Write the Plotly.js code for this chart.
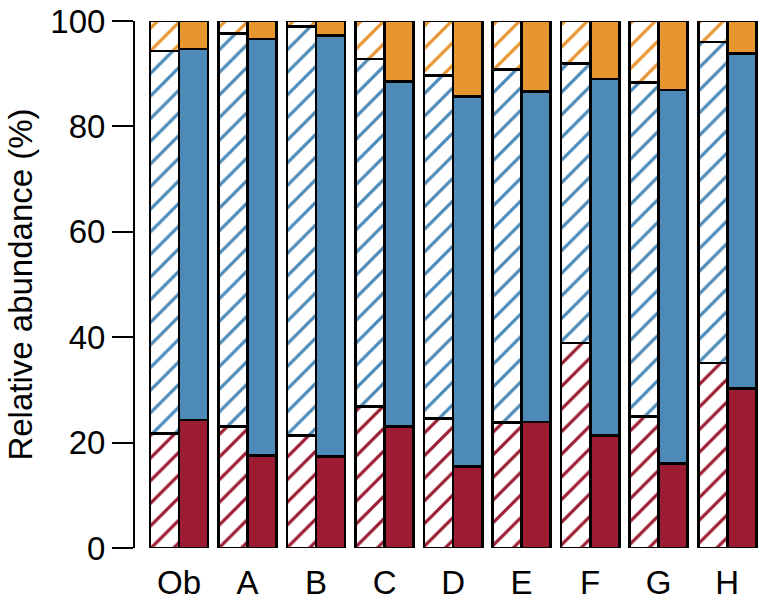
<!DOCTYPE html>
<html>
<head>
<meta charset="utf-8">
<script src="https://cdn.plot.ly/plotly-3.0.1.min.js"></script>
<style>
  html, body { margin: 0; padding: 0; background: #fff; }
  #plot { width: 768px; height: 605px; }
</style>
</head>
<body>
<div id="plot"></div>
<script>
// Categorias
const grupos = ['Ob', 'A', 'B', 'C', 'D', 'E', 'F', 'G', 'H'];

// Barras rayadas (izquierda de cada grupo), % por capa
const rojoRayado    = [21.8, 23.0, 21.3, 26.8, 24.6, 23.8, 38.9, 24.9, 35.1];
const azulRayado    = [72.5, 74.7, 77.6, 66.0, 65.1, 67.0, 53.1, 63.5, 60.9];
const naranjaRayado = [5.7, 2.3, 1.1, 7.2, 10.3, 9.2, 8.0, 11.6, 4.0];

// Barras llenas (derecha de cada grupo)
const rojoLleno    = [24.3, 17.5, 17.3, 23.0, 15.4, 23.9, 21.3, 16.1, 30.2];
const azulLleno    = [70.4, 79.1, 79.9, 65.5, 70.2, 62.7, 67.7, 70.8, 63.7];
const naranjaLleno = [5.3, 3.4, 2.8, 11.5, 14.4, 13.4, 11.0, 13.1, 6.1];

const colores = { rojo: '#9c1c33', azul: '#4d8ab8', naranja: '#e6952f' };

const ancho = 0.424;
const xRayado = grupos.map((g, i) => i - ancho / 2);
const xLleno = grupos.map((g, i) => i + ancho / 2);

const borde = { color: '#000', width: 2.8 };

const barraRayada = (y, color) => ({
  type: 'bar', x: xRayado, y: y, width: ancho,
  marker: {
    color: color, line: borde,
    pattern: { shape: '/', fgcolor: color, bgcolor: '#fff', size: 16, solidity: 0.2 }
  },
  hoverinfo: 'y'
});

const barraLlena = (y, color) => ({
  type: 'bar', x: xLleno, y: y, width: ancho,
  marker: { color: color, line: borde },
  hoverinfo: 'y'
});

const data = [
  barraRayada(rojoRayado, colores.rojo),
  barraRayada(azulRayado, colores.azul),
  barraRayada(naranjaRayado, colores.naranja),
  barraLlena(rojoLleno, colores.rojo),
  barraLlena(azulLleno, colores.azul),
  barraLlena(naranjaLleno, colores.naranja)
];

const fuente = { family: 'Liberation Sans, Arial, sans-serif', size: 33, color: '#000' };

const layout = {
  width: 768, height: 605,
  margin: { l: 135, r: 10, t: 21, b: 57 },
  barmode: 'stack',
  showlegend: false,
  paper_bgcolor: '#fff', plot_bgcolor: '#fff',
  font: fuente,
  xaxis: {
    range: [-0.642, 8.45],
    tickvals: grupos.map((g, i) => i),
    ticktext: grupos,
    ticks: 'outside', ticklen: 5, tickcolor: 'rgba(0,0,0,0)',
    showgrid: false, zeroline: false, showline: false,
    tickfont: fuente
  },
  yaxis: {
    range: [0, 100],
    tickvals: [0, 20, 40, 60, 80, 100],
    ticks: 'outside', ticklen: 21, tickwidth: 2, tickcolor: '#000',
    showline: true, linecolor: '#000', linewidth: 2,
    showgrid: false, zeroline: false,
    tickfont: fuente,
    title: { text: 'Relative abundance (%)', font: fuente, standoff: 8 }
  }
};

Plotly.newPlot('plot', data, layout, { displayModeBar: false, staticPlot: true });
</script>
</body>
</html>
